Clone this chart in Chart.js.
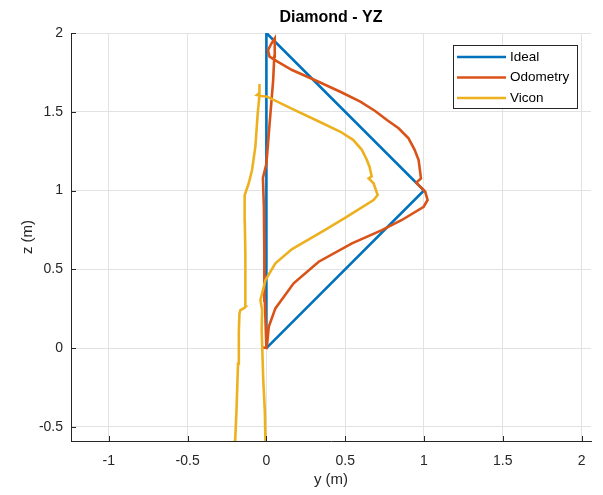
<!DOCTYPE html>
<html>
<head>
<meta charset="utf-8">
<script src="https://cdn.jsdelivr.net/npm/chart.js@4/dist/chart.umd.min.js"></script>
<style>
  html, body { margin: 0; padding: 0; background: #fff; }
  #wrap { width: 603px; height: 495px; }
</style>
</head>
<body>
<div id="wrap"><canvas id="yz"></canvas></div>
<script>
// reference diamond in the YZ plane
const idealY = [0, 0, 1, 0];
const idealZ = [0, 2, 1, 0];

// odometry estimate
const odomY = [-0.03, 0.0, -0.01, -0.013, -0.016, -0.022, 0.0, 0.02, 0.043, 0.05, 0.053, 0.03, 0.01, 0.02,
  0.068, 0.163, 0.31, 0.469, 0.596, 0.69, 0.765, 0.839, 0.902, 0.94, 0.966, 0.981, 0.951, 1.008, 1.023,
  0.998, 0.86, 0.733, 0.543, 0.332, 0.173, 0.057, 0.015, 0.004, -0.005];
const odomZ = [0.005, 0.0, 0.3, 0.6, 0.9, 1.08, 1.17, 1.42, 1.7, 1.85, 1.966, 1.93, 1.89, 1.85,
  1.82, 1.765, 1.7, 1.627, 1.564, 1.505, 1.448, 1.395, 1.331, 1.26, 1.194, 1.077, 1.05, 0.992, 0.94,
  0.897, 0.813, 0.749, 0.665, 0.548, 0.411, 0.252, 0.135, 0.019, 0.0];

// motion capture track
const viconY = [-0.2, -0.19, -0.18, -0.175, -0.171, -0.165, -0.14, -0.133, -0.132, -0.135, -0.137,
  -0.138, -0.112, -0.091, -0.07, -0.055, -0.044, -0.042, -0.046, -0.06, -0.03, 0.004, 0.18, 0.33, 0.47,
  0.55, 0.605, 0.635, 0.655, 0.668, 0.649, 0.68, 0.706, 0.68, 0.512, 0.37, 0.163, 0.057, -0.006, -0.038,
  -0.027, -0.03, -0.02, -0.01, -0.005];
const viconZ = [-0.63, -0.4, -0.1, 0.1, 0.22, 0.241, 0.255, 0.262, 0.3, 0.6, 0.8,
  0.97, 1.046, 1.13, 1.278, 1.49, 1.606, 1.676, 1.62, 1.606, 1.6, 1.596, 1.51, 1.44, 1.373,
  1.322, 1.26, 1.2, 1.15, 1.09, 1.077, 1.046, 0.971, 0.94, 0.834, 0.749, 0.628, 0.538, 0.432, 0.305,
  0.241, 0.114, -0.2, -0.4, -0.63];

const xTicks = [-1, -0.5, 0, 0.5, 1, 1.5, 2];
const zTicks = [-0.5, 0, 0.5, 1, 1.5, 2];

const TEXT = "#262626";
const FONT = "'Liberation Sans', Arial, sans-serif";

function pts(xs, ys) {
  return xs.map((x, i) => ({ x, y: ys[i] }));
}

function line(label, xs, ys, color, order) {
  return {
    label,
    data: pts(xs, ys),
    showLine: true,
    borderColor: color,
    backgroundColor: color,
    borderWidth: 2.6,
    pointRadius: 0,
    tension: 0,
    fill: false,
    order,
  };
}

// MATLAB-style extras: title, inward ticks, boxed legend
const decorations = {
  id: "decorations",
  afterDraw(chart) {
    const { ctx, chartArea: a, scales } = chart;
    ctx.save();

    ctx.fillStyle = "#000";
    ctx.font = "bold 16px " + FONT;
    ctx.textAlign = "center";
    ctx.textBaseline = "middle";
    ctx.fillText("Diamond - YZ", (a.left + a.right) / 2, 18);

    ctx.strokeStyle = TEXT;
    ctx.lineWidth = 1;
    ctx.beginPath();
    xTicks.forEach((v) => {
      const px = Math.round(scales.x.getPixelForValue(v)) + 0.5;
      ctx.moveTo(px, a.bottom);
      ctx.lineTo(px, a.bottom - 5);
    });
    zTicks.forEach((v) => {
      const py = Math.round(scales.y.getPixelForValue(v)) + 0.5;
      ctx.moveTo(a.left, py);
      ctx.lineTo(a.left + 5, py);
    });
    ctx.stroke();

    const bx = 453, by = 45, bw = 124, bh = 63;
    ctx.fillStyle = "#fff";
    ctx.fillRect(bx, by, bw, bh);
    ctx.strokeStyle = TEXT;
    ctx.strokeRect(bx + 0.5, by + 0.5, bw, bh);
    ctx.font = "13.5px " + FONT;
    ctx.textAlign = "left";
    chart.data.datasets.forEach((ds, i) => {
      const y = by + 12 + i * 20.5;
      ctx.strokeStyle = ds.borderColor;
      ctx.lineWidth = 2.6;
      ctx.beginPath();
      ctx.moveTo(bx + 4, y);
      ctx.lineTo(bx + 53, y);
      ctx.stroke();
      ctx.fillStyle = "#000";
      ctx.fillText(ds.label, bx + 57, y);
    });
    ctx.restore();
  },
};

new Chart(document.getElementById("yz"), {
  type: "scatter",
  data: {
    datasets: [
      line("Ideal", idealY, idealZ, "#0072BD", 3),
      line("Odometry", odomY, odomZ, "#D95319", 2),
      line("Vicon", viconY, viconZ, "#EDB120", 1),
    ],
  },
  options: {
    responsive: true,
    maintainAspectRatio: false,
    animation: false,
    layout: { padding: { top: 33, right: 12, left: 0, bottom: 0 } },
    plugins: {
      legend: { display: false },
      tooltip: { enabled: false },
      title: { display: false },
    },
    scales: {
      x: {
        type: "linear",
        min: -1.24,
        max: 2.06,
        afterBuildTicks: (s) => { s.ticks = xTicks.map((value) => ({ value })); },
        afterFit: (s) => { s.height = 54; },
        grid: { color: "#e2e2e2", drawTicks: false },
        border: { color: TEXT },
        ticks: {
          color: TEXT, font: { family: FONT, size: 14 }, padding: 12, maxRotation: 0,
          callback: (v) => String(v),
        },
        title: { display: true, text: "y (m)", color: TEXT, font: { family: FONT, size: 15 }, padding: { top: 0, bottom: 6 } },
      },
      y: {
        type: "linear",
        min: -0.59,
        max: 2.0,
        afterBuildTicks: (s) => { s.ticks = zTicks.map((value) => ({ value })); },
        afterFit: (s) => { s.width = 71; },
        grid: { color: "#e2e2e2", drawTicks: false },
        border: { color: TEXT },
        ticks: { color: TEXT, font: { family: FONT, size: 14 }, padding: 8, callback: (v) => String(v) },
        title: { display: true, text: "z (m)", color: TEXT, font: { family: FONT, size: 15 }, padding: { top: 19, bottom: 0 } },
      },
    },
  },
  plugins: [decorations],
});
</script>
</body>
</html>
